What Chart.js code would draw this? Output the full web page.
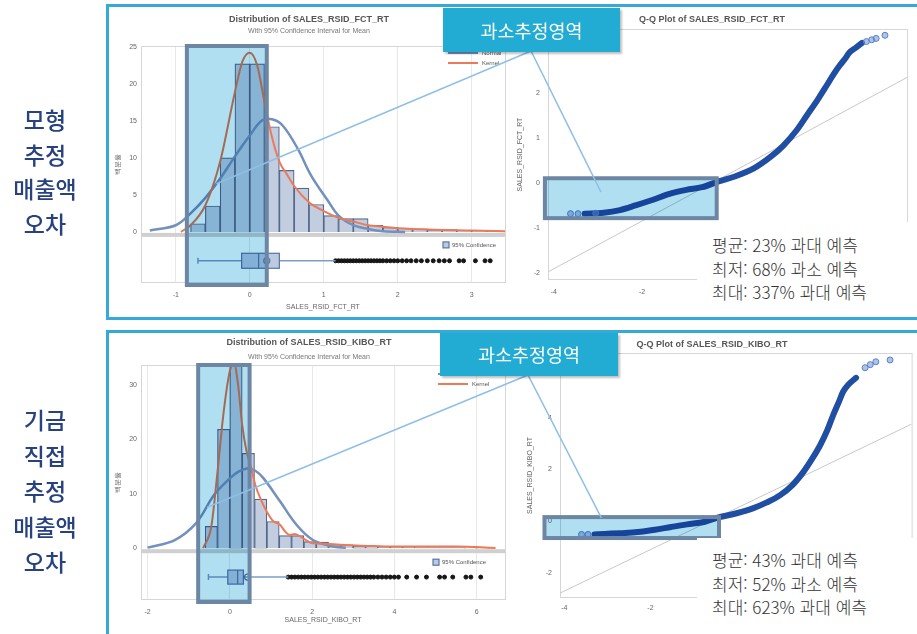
<!DOCTYPE html>
<html lang="ko">
<head>
<meta charset="utf-8">
<title>과소추정영역</title>
<script src="https://cdn.jsdelivr.net/npm/chart.js@4.4.1/dist/chart.umd.min.js"></script>
<style>
  html, body { margin: 0; padding: 0; background: #fff; width: 917px; height: 634px; overflow: hidden; }
  body { position: relative; font-family: "Noto Sans CJK KR", "Noto Sans", sans-serif; }
  canvas.plot { position: absolute; z-index: 1; }
  #overlay { position: absolute; left: 0; top: 0; z-index: 2; pointer-events: none; }
  .note { position: absolute; background: #fff; color: #333; font-size: 17px; line-height: 23.5px; font-weight: 300; z-index: 3; box-sizing: border-box; padding-left: 15px; }
  .frame { position: absolute; border: 3px solid #35a9d8; box-sizing: border-box; z-index: 5; }
  .side { position: absolute; left: 0; width: 90px; text-align: center; color: #27427e; font-size: 23px; font-weight: 500; z-index: 6; }
  .tag { position: absolute; background: #22acd3; color: #fff; font-size: 18.5px; text-align: center; z-index: 8; box-shadow: 2px 2px 2px rgba(0,0,0,.25); }
</style>
</head>
<body>
<div class="side" style="top:102px; line-height:34.7px;">모형<br>추정<br>매출액<br>오차</div>
<div class="side" style="top:402px; line-height:35.5px;">기금<br>직접<br>추정<br>매출액<br>오차</div>

<canvas class="plot" id="histFct" width="402" height="312" style="left:108px; top:6px;"></canvas>
<canvas class="plot" id="qqFct" width="407" height="312" style="left:510px; top:6px;"></canvas>
<canvas class="plot" id="histKibo" width="402" height="300" style="left:108px; top:331px;"></canvas>
<canvas class="plot" id="qqKibo" width="407" height="300" style="left:510px; top:331px;"></canvas>
<canvas id="overlay" width="917" height="634"></canvas>

<div class="note" style="left:697px; top:222px; width:220px; height:96px; padding-top:11px;">평균: 23% 과대 예측<br>최저: 68% 과소 예측<br>최대: 337% 과대 예측</div>
<div class="note" style="left:697px; top:538px; width:220px; height:96px; padding-top:10px;">평균: 43% 과대 예측<br>최저: 52% 과소 예측<br>최대: 623% 과대 예측</div>

<div class="frame" style="left:106px; top:4px; width:830px; height:316px;"></div>
<div class="frame" style="left:106px; top:330px; width:830px; height:320px;"></div>

<div class="tag" id="tagFct" style="left:443px; top:8px; width:177px; height:44px; line-height:44px;">과소추정영역</div>
<div class="tag" id="tagKibo" style="left:440px; top:333px; width:178px; height:43px; line-height:43px;">과소추정영역</div>

<script>
// ---- SALES_RSID_FCT_RT (model estimate) ----
const fctBins = [-0.7, -0.5, -0.3, -0.1, 0.1, 0.3, 0.5, 0.7, 0.9, 1.1, 1.3, 1.5, 1.7, 1.9, 2.1, 2.3, 2.5, 2.7, 2.9, 3.1, 3.3];
const fctPercent = [1.1, 3.5, 10.0, 22.7, 22.7, 14.2, 8.3, 5.9, 3.7, 2.2, 1.8, 1.8, 0.9, 0.6, 0.5, 0.4, 0.3, 0.3, 0.2, 0.2, 0.1];
const fctNormalX = [-1.35, -1.0, -0.8, -0.6, -0.4, -0.2, 0.0, 0.16, 0.3, 0.45, 0.65, 0.83, 1.05, 1.2, 1.4, 1.6, 1.8, 2.1];
const fctNormalY = [0.2, 0.9, 2.5, 4.6, 7.2, 10.2, 13.0, 15.0, 15.2, 14.3, 11.2, 7.6, 4.3, 2.2, 0.9, 0.4, 0.1, 0.0];
const fctKernelX = [-0.93, -0.8, -0.6, -0.4, -0.2, -0.1, 0.0, 0.1, 0.2, 0.3, 0.4, 0.5, 0.6, 0.8, 1.0, 1.2, 1.4, 1.6, 1.8, 2.0, 2.5, 3.0, 3.45];
const fctKernelY = [0.0, 0.9, 3.6, 9.5, 18.9, 23.0, 24.2, 22.5, 17.5, 12.8, 9.5, 7.8, 6.2, 4.0, 2.8, 1.9, 1.4, 0.9, 0.7, 0.5, 0.3, 0.2, 0.1];
const fctBox = [-0.7, -0.11, 0.12, 0.4, 0.23, 1.16];   // low whisker, Q1, median, Q3, mean, high whisker
const fctOutliers = [1.16, 1.2, 1.24, 1.28, 1.32, 1.36, 1.4, 1.44, 1.48, 1.52, 1.56, 1.6, 1.64, 1.68, 1.72, 1.76, 1.8, 1.85, 1.9, 1.95, 2.0, 2.06, 2.12, 2.18, 2.25, 2.32, 2.4, 2.48, 2.56, 2.63, 2.7, 2.83, 2.89, 3.05, 3.18, 3.25];
const fctQqX = [-3.3, -2.87, -2.5, -2.13, -1.75, -1.38, -1.0, -0.64, -0.27, 0.1, 0.53, 0.9, 1.2, 1.5, 1.73, 2.0, 2.18, 2.35, 2.47, 2.6, 2.69, 2.85, 2.98];
const fctQqY = [-0.68, -0.66, -0.6, -0.49, -0.37, -0.24, -0.15, -0.09, 0.04, 0.15, 0.33, 0.58, 0.84, 1.18, 1.51, 1.9, 2.18, 2.45, 2.62, 2.78, 2.91, 3.03, 3.13];
const fctQqSparseX = [-3.62, -3.45, -3.05, 3.08, 3.2, 3.3, 3.5];
const fctQqSparseY = [-0.68, -0.68, -0.67, 3.16, 3.2, 3.23, 3.3];
const fctRefX = [-4.13, 4.0];
const fctRefY = [-1.98, 2.36];

// ---- SALES_RSID_KIBO_RT (fund direct estimate) ----
const kiboBins = [-0.45, -0.15, 0.15, 0.45, 0.75, 1.05, 1.35, 1.65, 1.95, 2.25, 2.55, 2.85, 3.15, 3.45, 3.75, 4.05, 4.35, 4.65, 4.95, 5.25, 5.55, 5.85, 6.15];
const kiboPercent = [4.0, 21.8, 34.2, 17.4, 9.0, 4.9, 2.3, 2.3, 1.2, 1.1, 0.7, 0.6, 0.4, 0.3, 0.2, 0.2, 0.2, 0.1, 0.1, 0.1, 0.1, 0.05, 0.05];
const kiboNormalX = [-2.0, -1.34, -0.82, -0.38, 0.0, 0.2, 0.42, 0.62, 0.82, 1.22, 1.62, 2.02, 2.5, 2.82];
const kiboNormalY = [0.1, 1.5, 4.6, 9.8, 12.8, 14.0, 14.6, 14.2, 12.8, 8.6, 4.3, 1.5, 0.3, 0.1];
const kiboKernelX = [-0.65, -0.45, -0.3, -0.15, 0.0, 0.1, 0.2, 0.3, 0.4, 0.5, 0.62, 0.75, 0.9, 1.05, 1.22, 1.35, 1.46, 1.58, 1.7, 1.85, 2.0, 2.3, 2.6, 3.06, 3.5, 4.0, 4.5, 5.06, 5.5, 6.0, 6.46];
const kiboKernelY = [0.0, 4.0, 14.0, 25.0, 32.5, 34.0, 30.0, 22.6, 18.0, 15.3, 11.6, 9.0, 6.7, 5.0, 4.3, 3.0, 2.4, 2.6, 2.2, 1.5, 0.9, 0.8, 0.7, 0.5, 0.4, 0.3, 0.3, 0.3, 0.3, 0.2, 0.05];
const kiboBox = [-0.52, -0.05, 0.19, 0.33, 0.43, 1.42];
const kiboOutliers = [1.42, 1.5, 1.58, 1.66, 1.74, 1.82, 1.9, 1.98, 2.06, 2.14, 2.22, 2.3, 2.38, 2.46, 2.54, 2.62, 2.7, 2.78, 2.86, 2.94, 3.02, 3.1, 3.18, 3.26, 3.34, 3.42, 3.5, 3.6, 3.7, 3.8, 3.9, 4.0, 4.1, 4.3, 4.54, 4.78, 5.1, 5.22, 5.42, 5.74, 5.86, 6.1];
const kiboQqX = [-3.3, -3.07, -2.7, -2.3, -1.9, -1.52, -1.15, -0.76, -0.46, 0.0, 0.39, 0.7, 1.01, 1.3, 1.55, 1.75, 1.94, 2.1, 2.24, 2.37, 2.47, 2.59, 2.77];
const kiboQqY = [-0.52, -0.5, -0.47, -0.43, -0.34, -0.23, -0.13, -0.04, 0.12, 0.3, 0.5, 0.72, 1.0, 1.4, 1.9, 2.4, 2.94, 3.5, 4.1, 4.6, 5.0, 5.27, 5.54];
const kiboQqSparseX = [-3.6, -3.45, 2.98, 3.1, 3.23, 3.56];
const kiboQqSparseY = [-0.52, -0.52, 5.93, 6.05, 6.16, 6.23];
const kiboRefX = [-4.1, 4.06];
const kiboRefY = [-2.79, 3.75];

Chart.defaults.font.family = '"Liberation Sans", Arial, sans-serif';
Chart.defaults.color = '#666';

const pts = (xs, ys) => xs.map((v, i) => ({ x: v, y: ys[i] }));

const decor = {
    id: 'decor',
    beforeDatasetsDraw(chart, args, o) {
        const { ctx, chartArea: a, scales: { y } } = chart;
        ctx.save();
        ctx.strokeStyle = '#d6d6d6';
        ctx.lineWidth = 1;
        ctx.strokeRect(a.left + 0.5, a.top + 0.5, a.right - a.left, a.bottom - a.top - 1);
        if (o.band) {
            const y0 = y.getPixelForValue(0);
            ctx.fillStyle = '#d0d0d0';
            ctx.fillRect(a.left, y0 + 1, a.right - a.left, 4);
        }
        ctx.restore();
    },
    afterDatasetsDraw(chart, args, o) {
        const { ctx, chartArea: a, scales: { x, y } } = chart;
        const px = v => x.getPixelForValue(v);
        ctx.save();
        if (o.box) {
            const b = o.box, yc = y.getPixelForValue(o.boxY), h = o.boxH;
            ctx.strokeStyle = '#7f9dc8';
            ctx.lineWidth = 1.5;
            ctx.beginPath();
            ctx.moveTo(px(b[0]), yc); ctx.lineTo(px(b[1]), yc);
            ctx.moveTo(px(b[3]), yc); ctx.lineTo(px(b[5]), yc);
            ctx.moveTo(px(b[0]), yc - 3); ctx.lineTo(px(b[0]), yc + 3);
            ctx.stroke();
            ctx.fillStyle = '#bccae2';
            ctx.fillRect(px(b[1]), yc - h, px(b[3]) - px(b[1]), 2 * h);
            ctx.strokeStyle = '#5876a3';
            ctx.lineWidth = 1.2;
            ctx.strokeRect(px(b[1]), yc - h, px(b[3]) - px(b[1]), 2 * h);
            ctx.beginPath();
            ctx.moveTo(px(b[2]), yc - h); ctx.lineTo(px(b[2]), yc + h);
            ctx.stroke();
            ctx.beginPath();
            ctx.arc(px(b[4]), yc, 3, 0, Math.PI * 2);
            ctx.stroke();
            // 95% confidence legend
            const y0 = y.getPixelForValue(0);
            ctx.fillStyle = '#bccae2';
            ctx.fillRect(a.right - o.ciX, y0 + o.ciY - 3, 6, 6);
            ctx.strokeRect(a.right - o.ciX, y0 + o.ciY - 3, 6, 6);
            ctx.fillStyle = '#555';
            ctx.font = '6px "Liberation Sans", Arial, sans-serif';
            ctx.textBaseline = 'middle';
            ctx.fillText('95% Confidence', a.right - o.ciX + 9, y0 + o.ciY);
        }
        if (o.legend) {
            ctx.font = '6px "Liberation Sans", Arial, sans-serif';
            ctx.textBaseline = 'middle';
            o.legend.forEach((e, i) => {
                const ly = a.top + o.legY + i * 10;
                ctx.strokeStyle = e.color;
                ctx.lineWidth = 2;
                ctx.beginPath();
                ctx.moveTo(a.right - o.legX, ly); ctx.lineTo(a.right - o.legX + 30, ly);
                ctx.stroke();
                ctx.fillStyle = '#555';
                ctx.fillText(e.label, a.right - o.legX + 34, ly);
            });
        }
        if (o.hl) {
            const x0 = px(o.hl.x[0]), x1 = px(o.hl.x[1]);
            const y0 = o.hl.y ? y.getPixelForValue(o.hl.y[0]) : a.top;
            const y1 = o.hl.y ? y.getPixelForValue(o.hl.y[1]) : a.bottom + 2;
            ctx.globalCompositeOperation = 'multiply';
            ctx.fillStyle = '#b1dff2';
            ctx.fillRect(x0, y0, x1 - x0, y1 - y0);
            ctx.globalCompositeOperation = 'source-over';
            ctx.strokeStyle = '#6d86a3';
            ctx.lineWidth = 4;
            ctx.strokeRect(x0, y0, x1 - x0, y1 - y0);
        }
        ctx.restore();
    }
};

function histChart(id, d) {
    return new Chart(document.getElementById(id), {
        type: 'bar',
        plugins: [decor],
        data: {
            datasets: [
                { type: 'scatter', data: d.outliers.map(v => ({ x: v, y: d.boxY })), pointRadius: 2, pointBackgroundColor: '#161616', pointBorderColor: '#161616', order: 0 },
                { type: 'line', data: pts(d.kx, d.ky), borderColor: '#ec7a58', borderWidth: 2, pointRadius: 0, cubicInterpolationMode: 'monotone', order: 1 },
                { type: 'line', data: pts(d.nx, d.ny), borderColor: '#7391bc', borderWidth: 2.5, pointRadius: 0, tension: 0.35, order: 2 },
                { data: pts(d.bins, d.pct), backgroundColor: '#c3cde0', borderColor: '#55688b', borderWidth: 1.2, barPercentage: 1, categoryPercentage: 1, order: 3 }
            ]
        },
        options: {
            animation: false,
            responsive: false,
            events: [],
            layout: { padding: 0 },
            plugins: {
                legend: { display: false },
                tooltip: { enabled: false },
                title: { display: true, text: d.title, color: '#555', font: { size: 9, weight: 'bold' }, padding: { top: d.tPad[0], bottom: d.tPad[1] } },
                subtitle: { display: true, text: 'With 95% Confidence Interval for Mean', color: '#777', font: { size: 7 }, padding: { top: 0, bottom: d.tPad[2] } },
                decor: d.decor
            },
            scales: {
                x: {
                    type: 'linear', min: d.xMin, max: d.xMax, offset: false,
                    grid: { color: '#e8e8e8', offset: false, drawTicks: false },
                    border: { display: false },
                    ticks: { stepSize: d.xStep, includeBounds: false, font: { size: 7 }, padding: 8, maxRotation: 0 },
                    title: { display: true, text: d.xTitle, color: '#666', font: { size: 7 }, padding: { top: 0, bottom: 7 } },
                    afterFit: s => { s.height = d.xH; }
                },
                y: {
                    min: d.yMin, max: d.yMax,
                    grid: { display: false, drawTicks: false },
                    border: { display: false },
                    ticks: { stepSize: d.yStep, includeBounds: false, font: { size: 7 }, padding: 4, callback: v => (v >= 0 ? v : '') },
                    title: { display: true, text: '백분율', color: '#666', font: { size: 7 }, padding: { top: 6, bottom: 0 } },
                    afterFit: s => { s.width = 33; }
                }
            }
        }
    });
}

function qqChart(id, d) {
    return new Chart(document.getElementById(id), {
        type: 'scatter',
        plugins: [decor],
        data: {
            datasets: [
                { data: pts(d.sx, d.sy), pointRadius: 3, pointBackgroundColor: 'rgba(110,145,215,0.55)', pointBorderColor: '#5a80c8', pointBorderWidth: 1, order: 0 },
                { data: pts(d.qx, d.qy), showLine: true, borderColor: '#1f4ea3', borderWidth: 6, borderCapStyle: 'round', borderJoinStyle: 'round', cubicInterpolationMode: 'monotone', pointRadius: 0, order: 1 },
                { data: pts(d.rx, d.ry), showLine: true, borderColor: '#c8c8c8', borderWidth: 1, pointRadius: 0, order: 2 }
            ]
        },
        options: {
            animation: false,
            responsive: false,
            events: [],
            layout: { padding: { right: 3 } },
            plugins: {
                legend: { display: false },
                tooltip: { enabled: false },
                title: { display: true, text: d.title, color: '#555', font: { size: 9, weight: 'bold' }, padding: { top: 8, bottom: d.tBottom } },
                decor: d.decor
            },
            scales: {
                x: {
                    min: d.xMin, max: d.xMax,
                    grid: { display: false, drawTicks: false },
                    border: { display: false },
                    ticks: { stepSize: 2, includeBounds: false, font: { size: 7 }, padding: d.xPad, maxRotation: 0 },
                    afterFit: s => { s.height = d.xH; }
                },
                y: {
                    min: d.yMin, max: d.yMax,
                    grid: { display: false, drawTicks: false },
                    border: { display: false },
                    ticks: { stepSize: d.yStep, includeBounds: false, font: { size: 7 }, padding: 8, callback: v => (v <= d.yLabelMax ? v : '') },
                    title: { display: true, text: d.yTitle, color: '#666', font: { size: 7 }, padding: { top: d.yTitlePad, bottom: 0 } },
                    afterFit: s => { s.width = d.yW; }
                }
            }
        }
    });
}

const histTop = histChart('histFct', {
    bins: fctBins, pct: fctPercent, nx: fctNormalX, ny: fctNormalY, kx: fctKernelX, ky: fctKernelY,
    outliers: fctOutliers, boxY: -3.9,
    title: 'Distribution of SALES_RSID_FCT_RT', xTitle: 'SALES_RSID_FCT_RT',
    tPad: [8, 2, 10.8], xH: 35,
    xMin: -1.47, xMax: 3.45, xStep: 1, yMin: -6.9, yMax: 25.1, yStep: 5,
    decor: {
        band: true, box: fctBox, boxY: -3.9, boxH: 7.5, ciX: 62, ciY: 13,
        legend: [{ label: 'Normal', color: '#7391bc' }, { label: 'Kernel', color: '#ec7a58' }], legX: 57, legY: 7,
        hl: { x: [-0.85, 0.23] }
    }
});

const histBottom = histChart('histKibo', {
    bins: kiboBins, pct: kiboPercent, nx: kiboNormalX, ny: kiboNormalY, kx: kiboKernelX, ky: kiboKernelY,
    outliers: kiboOutliers, boxY: -5.3,
    title: 'Distribution of SALES_RSID_KIBO_RT', xTitle: 'SALES_RSID_KIBO_RT',
    tPad: [6.6, 4.4, 3.8], xH: 31,
    xMin: -2.16, xMax: 6.69, xStep: 2, yMin: -9.5, yMax: 33.6, yStep: 10,
    decor: {
        band: true, box: kiboBox, boxY: -5.3, boxH: 7, ciX: 72, ciY: 14,
        legend: [{ label: 'Normal', color: '#7391bc' }, { label: 'Kernel', color: '#ec7a58' }], legX: 67, legY: 9,
        hl: { x: [-0.77, 0.48] }
    }
});

const qqTop = qqChart('qqFct', {
    qx: fctQqX, qy: fctQqY, sx: fctQqSparseX, sy: fctQqSparseY, rx: fctRefX, ry: fctRefY,
    title: 'Q-Q Plot of SALES_RSID_FCT_RT', yTitle: 'SALES_RSID_FCT_RT',
    tBottom: 4.2, xH: 38, yW: 38, xPad: 8, yTitlePad: 6,
    xMin: -4.13, xMax: 4.0, yMin: -2.16, yMax: 3.44, yStep: 1, yLabelMax: 2,
    decor: { hl: { x: [-4.2, -0.31], y: [0.11, -0.78] } }
});

const qqBottom = qqChart('qqKibo', {
    qx: kiboQqX, qy: kiboQqY, sx: kiboQqSparseX, sy: kiboQqSparseY, rx: kiboRefX, ry: kiboRefY,
    title: 'Q-Q Plot of SALES_RSID_KIBO_RT', yTitle: 'SALES_RSID_KIBO_RT',
    tBottom: 3.2, xH: 33, yW: 50, xPad: 6, yTitlePad: 16,
    xMin: -4.1, xMax: 4.06, yMin: -2.98, yMax: 6.5, yStep: 2, yLabelMax: 4,
    decor: { hl: { x: [-4.46, -0.41], y: [0.15, -0.66] } }
});

// callout lines: histogram highlight -> tag -> Q-Q highlight
function pagePoint(chart, xv, yv) {
    const c = chart.canvas;
    return [c.offsetLeft + chart.scales.x.getPixelForValue(xv), c.offsetTop + chart.scales.y.getPixelForValue(yv)];
}

function drawCallout(hist, histAt, qq, qqAt, tagId) {
    const tag = document.getElementById(tagId);
    const a = pagePoint(hist, histAt[0], histAt[1]);
    const j = [tag.offsetLeft + 88, tag.offsetTop + tag.offsetHeight - 1];
    const b = pagePoint(qq, qqAt[0], qqAt[1]);
    const ctx = document.getElementById('overlay').getContext('2d');
    ctx.strokeStyle = '#8fbfe6';
    ctx.lineWidth = 1.5;
    ctx.beginPath();
    ctx.moveTo(a[0], a[1]); ctx.lineTo(j[0], j[1]); ctx.lineTo(b[0], b[1]);
    ctx.stroke();
}

drawCallout(histTop, [-0.45, 6.5], qqTop, [-2.93, -0.2], 'tagFct');
drawCallout(histBottom, [-0.55, 7.5], qqBottom, [-3.14, 0.12], 'tagKibo');
</script>
</body>
</html>
